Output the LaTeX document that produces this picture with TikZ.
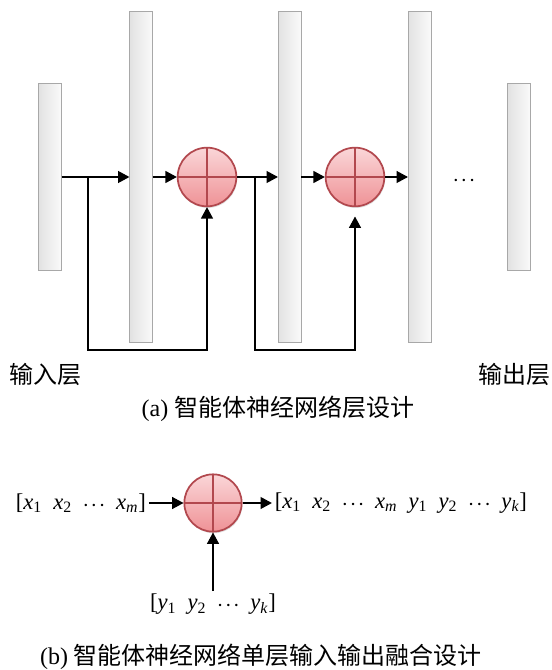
\documentclass[tikz,border=0pt]{standalone}
\usepackage{fontspec}
\setmainfont{Liberation Serif}
\newfontfamily\cjk{Noto Sans CJK SC}
\usetikzlibrary{
  arrows.meta,
  positioning,
  shadows
}
\definecolor{BarEdge}{RGB}{168,168,168}
\definecolor{BarDark}{RGB}{226,226,226}
\definecolor{BarLight}{RGB}{250,250,250}
\definecolor{FuseRed}{RGB}{178,72,78}
\definecolor{FuseTop}{RGB}{250,214,216}
\definecolor{FuseBottom}{RGB}{239,146,150}
\newcommand{\vsep}{\hspace{0.5em}}
\newcommand{\vdot}{{\fontsize{13}{14}\selectfont\boldmath$\cdots$}}
\newcommand{\vx}[1]{\textit{x}\textsubscript{#1}}
\newcommand{\vy}[1]{\textit{y}\textsubscript{#1}}
\tikzset{
  layerbar/.style={draw=BarEdge,left color=BarDark,right color=BarLight,minimum width=17pt,inner sep=0pt},
  fusenode/.style={circle,draw=FuseRed,line width=1.3pt,top color=FuseTop,bottom color=FuseBottom,minimum size=44pt,inner sep=0pt,
    drop shadow={opacity=0.25,shadow xshift=0.6pt,shadow yshift=-1.2pt},
    path picture={\draw[FuseRed,line width=1.3pt] (path picture bounding box.north) -- (path picture bounding box.south)
      (path picture bounding box.west) -- (path picture bounding box.east);}},
  flow/.style={-{Triangle[length=8.5pt,width=9pt]},line width=0.8pt},
  vectext/.style={font=\fontsize{17}{20}\selectfont,inner sep=2pt},
  labtext/.style={font=\fontsize{18}{22}\selectfont\cjk},
  captext/.style={font=\fontsize{18}{22}\selectfont}
}

\begin{document}
\begin{tikzpicture}[x=0.75pt,y=-0.75pt]
\useasboundingbox (0,0) rectangle (551,670);

% (a) layers
\node[layerbar,minimum height=140pt] (in) at (50,177) {};
\node[layerbar,minimum height=248pt] (h1) at (141,177) {};
\node[fusenode] (f1) at (207,177) {};
\node[layerbar,minimum height=248pt] (h2) at (289.5,177) {};
\node[fusenode] (f2) at (355,177) {};
\node[layerbar,minimum height=248pt] (h3) at (419.5,177) {};
\node[font=\fontsize{13}{14}\selectfont\boldmath] (dots) at (464,181) {$\cdots$};
\node[layerbar,minimum height=140pt] (out) at (519,177) {};

\coordinate (s1) at (88,177);
\coordinate (s2) at (255,177);
\coordinate (low) at (0,350);

\draw[flow] (in) -- (h1);
\draw[flow] (h1) -- (f1);
\draw[flow] (f1) -- (h2);
\draw[flow] (h2) -- (f2);
\draw[flow] (f2) -- (h3);
\draw[flow] (s1) -- (s1 |- low) -| (f1.south);
\draw[flow,shorten >=7pt] (s2) -- (s2 |- low) -| (f2.south);

\node[labtext] (inlab) at (45,374) {输入层};
\node[labtext] (outlab) at (514,374) {输出层};
\node[captext] (capa) at (278,409) {(a) {\cjk 智能体神经网络层设计}};

% (b) single layer fusion
\node[fusenode,minimum size=43pt] (f3) at (213,503) {};
\node[vectext,left=26pt of f3] (xin) {[\vx{1}\vsep\vx{2}\vsep\vdot\vsep\vx{\textit{m}}]};
\node[vectext,right=22pt of f3] (xout) {[\vx{1}\vsep\vx{2}\vsep\vdot\vsep\vx{\textit{m}}\vsep\vy{1}\vsep\vy{2}\vsep\vdot\vsep\vy{\textit{k}}]};
\node[vectext,below=44pt of f3] (yin) {[\vy{1}\vsep\vy{2}\vsep\vdot\vsep\vy{\textit{k}}]};

\draw[flow] (xin) -- (f3);
\draw[flow] (f3) -- (xout);
\draw[flow] (yin) -- (f3);

\node[captext] (capb) at (261,657) {(b) {\cjk 智能体神经网络单层输入输出融合设计}};
\end{tikzpicture}
\end{document}
